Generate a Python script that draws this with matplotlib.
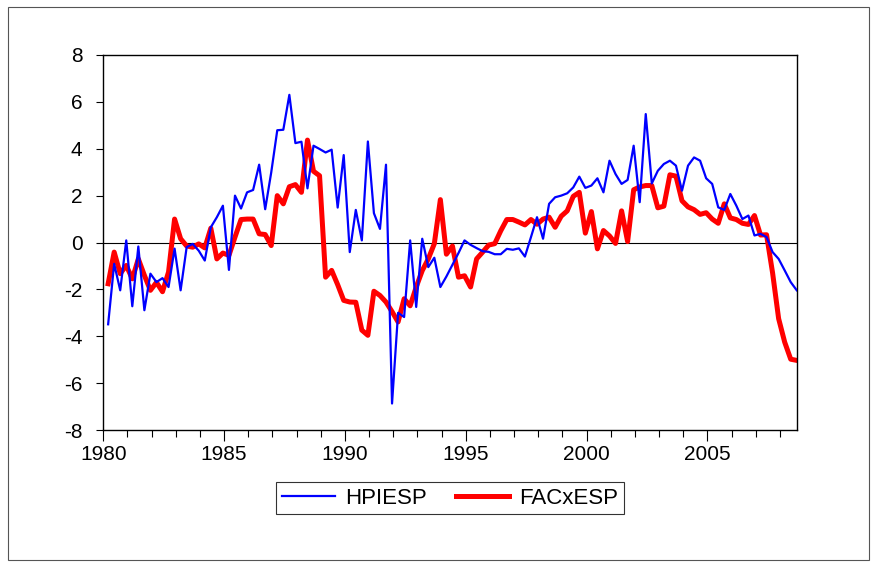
import numpy as np
import matplotlib
matplotlib.use("Agg")
import matplotlib.pyplot as plt
from matplotlib.patches import Rectangle
from matplotlib.ticker import MultipleLocator

plt.rcParams['font.family'] = ['Liberation Sans', 'DejaVu Sans']

start_year = 1980
n_obs = 115  # quarterly, 1980Q1 .. 2008Q3

hpiesp = [
    -3.49, -0.91, -2.04, 0.09, -2.72, -0.17, -2.89, -1.33, -1.69, -1.52,
    -1.90, -0.26, -2.04, -0.20, -0.06, -0.35, -0.77, 0.65, 1.08, 1.57,
    -1.17, 2.00, 1.45, 2.14, 2.24, 3.32, 1.42, 2.99, 4.79, 4.81,
    6.30, 4.24, 4.30, 2.31, 4.13, 3.99, 3.84, 3.96, 1.49, 3.73,
    -0.41, 1.39, 0.09, 4.31, 1.25, 0.58, 3.32, -6.87, -3.00, -3.18,
    0.09, -2.75, 0.16, -1.05, -0.65, -1.90, -1.45, -0.95, -0.45, 0.09,
    -0.10, -0.24, -0.37, -0.40, -0.50, -0.50, -0.27, -0.31, -0.25, -0.60,
    0.23, 1.08, 0.16, 1.65, 1.93, 2.00, 2.10, 2.35, 2.81, 2.33,
    2.43, 2.74, 2.14, 3.49, 2.92, 2.50, 2.67, 4.13, 1.72, 5.48,
    2.52, 3.06, 3.35, 3.49, 3.28, 2.21, 3.28, 3.63, 3.49, 2.74,
    2.50, 1.50, 1.39, 2.07, 1.57, 1.00, 1.15, 0.30, 0.37, 0.23,
    -0.41, -0.70, -1.19, -1.69, -2.04,
]

facxesp = [
    -1.76, -0.41, -1.33, -0.98, -1.55, -0.70, -1.40, -2.04, -1.70, -2.10,
    -1.26, 1.00, 0.16, -0.15, -0.20, -0.06, -0.23, 0.61, -0.70, -0.45,
    -0.55, 0.23, 0.98, 1.00, 1.00, 0.37, 0.34, -0.13, 2.00, 1.65,
    2.38, 2.47, 2.14, 4.37, 3.04, 2.85, -1.48, -1.19, -1.80, -2.47,
    -2.54, -2.55, -3.74, -3.96, -2.08, -2.26, -2.54, -2.95, -3.39, -2.40,
    -2.70, -1.90, -1.20, -0.70, -0.05, 1.83, -0.50, -0.15, -1.48, -1.42,
    -1.90, -0.70, -0.41, -0.11, -0.05, 0.50, 0.98, 0.98, 0.87, 0.75,
    0.98, 0.78, 1.00, 1.08, 0.65, 1.12, 1.35, 1.97, 2.14, 0.40,
    1.32, -0.27, 0.51, 0.28, -0.04, 1.35, 0.04, 2.25, 2.37, 2.43,
    2.43, 1.48, 1.55, 2.89, 2.83, 1.78, 1.52, 1.40, 1.20, 1.27,
    1.00, 0.82, 1.65, 1.05, 0.98, 0.82, 0.77, 1.15, 0.32, 0.33,
    -1.30, -3.25, -4.25, -4.98, -5.03,
]

x_tick_labels = ['1980', '1985', '1990', '1995', '2000', '2005']
y_ticks = [-8, -6, -4, -2, 0, 2, 4, 6, 8]

dates = start_year + 0.2 + 0.25 * np.arange(n_obs)

fig = plt.figure(figsize=(8.77, 5.63), dpi=100)
ax = fig.add_axes([103.3 / 877, 1 - 430 / 563, (797 - 103.3) / 877, (430 - 55) / 563])

ax.axhline(0, color='black', lw=0.8, zorder=1)
ax.plot(dates, hpiesp, color='#0000ff', lw=1.6, label='HPIESP', zorder=3)
ax.plot(dates, facxesp, color='#ff0000', lw=3.6, label='FACxESP', zorder=2,
        solid_joinstyle='round')

ax.set_xlim(1980, dates[-1] + 0.01)
ax.set_ylim(-8, 8)
ax.set_xticks([int(s) for s in x_tick_labels])
ax.set_xticklabels(x_tick_labels)
ax.xaxis.set_minor_locator(MultipleLocator(1))
ax.set_yticks(y_ticks)
ax.set_yticklabels([str(v) for v in y_ticks])

ax.tick_params(axis='both', which='major', direction='out', labelsize=15,
               width=0.8, color='black')
ax.tick_params(axis='x', which='major', length=8, pad=3)
ax.tick_params(axis='x', which='minor', length=5, width=0.8, direction='out')
ax.tick_params(axis='y', which='major', length=5, pad=10)
for sp in ax.spines.values():
    sp.set_linewidth(1.0)
    sp.set_color('black')

leg = fig.legend(loc='center', bbox_to_anchor=(450 / 877, 1 - 498 / 563), ncol=2,
                 fontsize=16, frameon=True, fancybox=False, edgecolor='black',
                 handlelength=2.4, columnspacing=1.3, borderpad=0.25,
                 handletextpad=0.45, borderaxespad=0)
leg.get_frame().set_linewidth(0.8)

fig.patches.append(Rectangle((8 / 877, 1 - 560 / 563), (869 - 8) / 877, (560 - 7) / 563,
                             transform=fig.transFigure, fill=False,
                             edgecolor='#555555', lw=0.8))

fig.savefig('out.png', dpi=100)
